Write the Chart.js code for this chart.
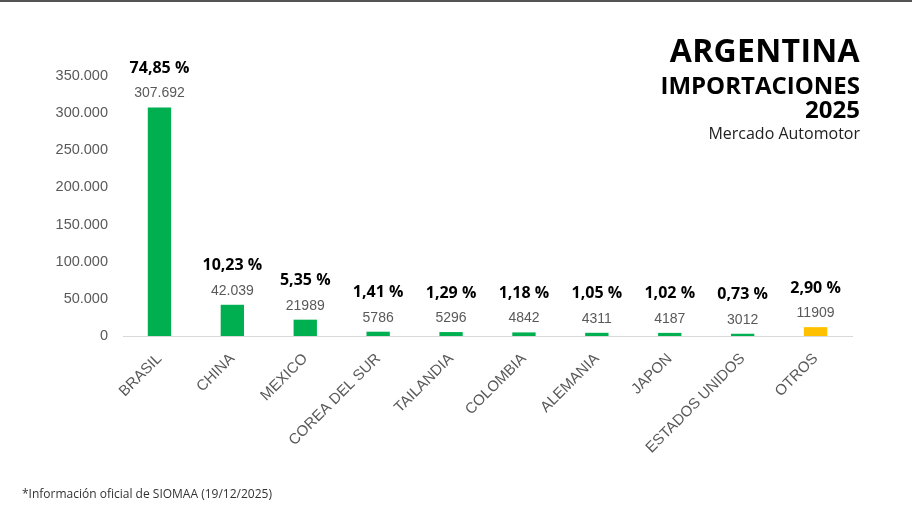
<!DOCTYPE html>
<html>
<head>
<meta charset="utf-8">
<script src="https://cdn.jsdelivr.net/npm/chart.js@4.4.1/dist/chart.umd.min.js"></script>
<style>
  html, body { margin: 0; padding: 0; background: #fff; }
  body { width: 912px; height: 513px; position: relative; overflow: hidden; border-top: 2px solid #555; box-sizing: border-box; }
  #wrap { position: absolute; left: 0; top: 0; width: 912px; height: 511px; }
  .title { position: absolute; right: 52px; text-align: right; font-family: "Open Sans", sans-serif; color: #000; }
  #t1 { top: 26px; font-size: 32px; font-weight: 700; letter-spacing: 0.3px; }
  #t2 { top: 66px; font-size: 24px; font-weight: 700; }
  #t3 { top: 90px; font-size: 24px; font-weight: 700; }
  #t4 { top: 120px; font-size: 16px; color: #222; }
  #note { position: absolute; left: 22px; top: 483px; font-family: "Open Sans", sans-serif; font-size: 12px; color: #333; }
</style>
</head>
<body>
<div id="wrap"><canvas id="importChart"></canvas></div>
<div class="title" id="t1">ARGENTINA</div>
<div class="title" id="t2">IMPORTACIONES</div>
<div class="title" id="t3">2025</div>
<div class="title" id="t4">Mercado Automotor</div>
<div id="note">*Información oficial de SIOMAA (19/12/2025)</div>
<script>
const paises = ["BRASIL", "CHINA", "MEXICO", "COREA DEL SUR", "TAILANDIA", "COLOMBIA", "ALEMANIA", "JAPON", "ESTADOS UNIDOS", "OTROS"];
const unidades = [307692, 42039, 21989, 5786, 5296, 4842, 4311, 4187, 3012, 11909];
const etiquetas = ["307.692", "42.039", "21989", "5786", "5296", "4842", "4311", "4187", "3012", "11909"];
const porcentajes = ["74,85 %", "10,23 %", "5,35 %", "1,41 %", "1,29 %", "1,18 %", "1,05 %", "1,02 %", "0,73 %", "2,90 %"];
const colores = ["#00B050", "#00B050", "#00B050", "#00B050", "#00B050", "#00B050", "#00B050", "#00B050", "#00B050", "#FFC000"];
const ticksY = [0, 50000, 100000, 150000, 200000, 250000, 300000, 350000];

// etiquetas encima de cada barra
const barLabels = {
    id: "barLabels",
    afterDatasetsDraw(chart) {
        const ctx = chart.ctx;
        const meta = chart.getDatasetMeta(0);
        ctx.save();
        ctx.textAlign = "center";
        ctx.textBaseline = "middle";
        meta.data.forEach(function (bar, i) {
            ctx.fillStyle = "#595959";
            ctx.font = "14px 'Liberation Sans', Arial, sans-serif";
            ctx.fillText(etiquetas[i], bar.x, bar.y - 14);
            ctx.fillStyle = "#000";
            ctx.font = "bold 16px 'Open Sans', sans-serif";
            ctx.fillText(porcentajes[i], bar.x, bar.y - 39);
        });
        ctx.restore();
    }
};

new Chart(document.getElementById("importChart"), {
    type: "bar",
    data: {
        labels: paises,
        datasets: [{
            data: unidades,
            backgroundColor: colores,
            barPercentage: 0.32,
            categoryPercentage: 1
        }]
    },
    options: {
        responsive: true,
        maintainAspectRatio: false,
        animation: false,
        layout: { padding: { top: 74, right: 60, left: 0, bottom: 0 } },
        plugins: {
            legend: { display: false },
            tooltip: { enabled: false }
        },
        scales: {
            y: {
                min: 0,
                max: 350000,
                afterFit(scale) { scale.width = 123; },
                afterBuildTicks(scale) { scale.ticks = ticksY.map(v => ({ value: v })); },
                grid: { display: false },
                border: { display: false },
                ticks: {
                    padding: 7,
                    color: "#595959",
                    font: { family: "'Liberation Sans', Arial, sans-serif", size: 14.5 },
                    callback: v => v.toLocaleString("de-DE")
                }
            },
            x: {
                afterFit(scale) { scale.height = 177; },
                grid: { display: false },
                border: { display: true, color: "#d9d9d9", width: 1 },
                ticks: {
                    maxRotation: 45,
                    minRotation: 45,
                    padding: 6,
                    color: "#595959",
                    font: { family: "'Liberation Sans', Arial, sans-serif", size: 15 }
                }
            }
        }
    },
    plugins: [barLabels]
});
</script>
</body>
</html>
